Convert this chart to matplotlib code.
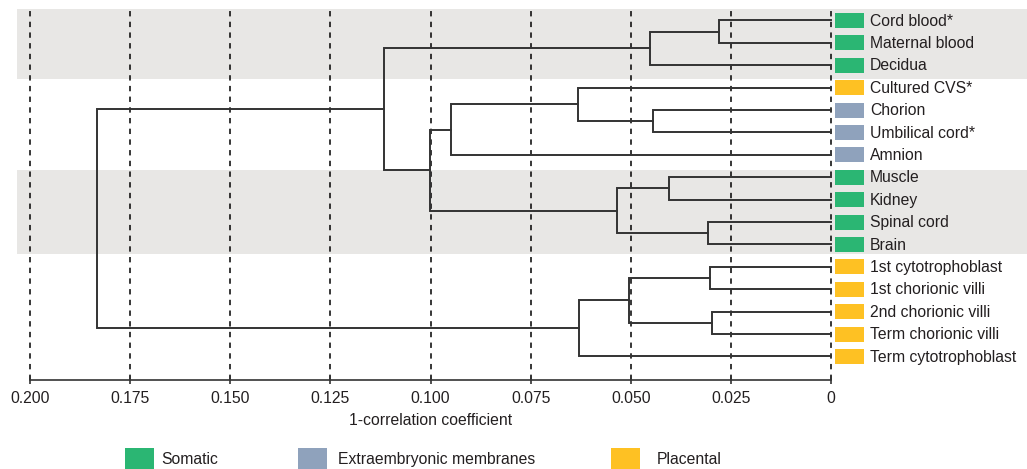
import numpy as np
import matplotlib
matplotlib.use("Agg")
import matplotlib.pyplot as plt
from matplotlib.patches import Rectangle
import matplotlib.transforms as mtransforms

plt.rcParams['font.family'] = ['Liberation Sans', 'DejaVu Sans']

# Data
leaves = ["Cord blood*", "Maternal blood", "Decidua", "Cultured CVS*", "Chorion",
          "Umbilical cord*", "Amnion", "Muscle", "Kidney", "Spinal cord", "Brain",
          "1st cytotrophoblast", "1st chorionic villi", "2nd chorionic villi",
          "Term chorionic villi", "Term cytotrophoblast"]
leaf_group = ["Somatic", "Somatic", "Somatic", "Placental", "Extraembryonic membranes",
              "Extraembryonic membranes", "Extraembryonic membranes", "Somatic", "Somatic",
              "Somatic", "Somatic", "Placental", "Placental", "Placental", "Placental",
              "Placental"]

# linkage rows: (child a, child b, height); new clusters numbered from 16
merge_a = [0, 16, 4, 3, 19, 7, 9, 21, 20, 17, 11, 13, 26, 28, 25]
merge_b = [1, 2, 5, 18, 6, 8, 10, 22, 23, 24, 12, 14, 27, 15, 29]
merge_h = [0.028, 0.0452, 0.0444, 0.0632, 0.0949, 0.0405, 0.0307, 0.0534,
           0.1001, 0.1116, 0.0302, 0.0297, 0.0504, 0.0629, 0.1833]

group_names = ["Somatic", "Extraembryonic membranes", "Placental"]
group_colors = {"Somatic": "#2bb673", "Extraembryonic membranes": "#8fa2bc",
                "Placental": "#fec123"}

# shaded rows (first, last leaf)
band_rows = [(0, 2), (7, 10)]

xticks = [0.2, 0.175, 0.15, 0.125, 0.1, 0.075, 0.05, 0.025, 0.0]
xtick_labels = ["0.200", "0.175", "0.150", "0.125", "0.100", "0.075", "0.050", "0.025", "0"]

line_col = "#333333"
text_col = "#231f20"
fs = 11.3

fig = plt.figure(figsize=(10.27, 4.69), dpi=100)
W, H = 1027, 469
ax = fig.add_axes([17 / W, (H - 380) / H, 1010 / W, 371 / H])
ax.set_xlim(0.20325, -0.04894)
ax.set_ylim(16.05, -0.513)

# bands (first one runs to the top of the plot)
for k, (r0, r1) in enumerate(band_rows):
    if k == 0:
        top, bot = -0.513, r1 + 0.63
    else:
        top, bot = r0 - 0.33, r1 + 0.42
    ax.axhspan(top, bot, color="#e8e7e5", lw=0, zorder=0)

# dashed grid
for t in xticks:
    ax.axvline(t, color="black", lw=1.1, ls=(0, (3.5, 3.5)), zorder=1)

# dendrogram
n = len(leaves)
ypos = {i: float(i) for i in range(n)}
hpos = {i: 0.0 for i in range(n)}
for k in range(len(merge_h)):
    a, b, h = merge_a[k], merge_b[k], merge_h[k]
    ya, yb = ypos[a], ypos[b]
    ax.plot([hpos[a], h, h, hpos[b]], [ya, ya, yb, yb], color=line_col, lw=1.4,
            solid_joinstyle="miter", zorder=3)
    ypos[n + k] = (ya + yb) / 2
    hpos[n + k] = h

# leaf colour boxes and labels
for i, name in enumerate(leaves):
    ax.add_patch(Rectangle((-0.001, i - 0.335), -0.00724, 0.67,
                           color=group_colors[leaf_group[i]], lw=0, zorder=3))
    ax.text(-0.00975, i + 0.03, name, fontsize=fs, color=text_col, va="center",
            ha="left", zorder=4)

# axis
for s in ["top", "left", "right"]:
    ax.spines[s].set_visible(False)
ax.spines["bottom"].set_bounds(0, 0.2)
ax.spines["bottom"].set_color(line_col)
ax.spines["bottom"].set_linewidth(1.2)
ax.set_yticks([])
ax.set_xticks(xticks)
ax.set_xticklabels(xtick_labels, fontsize=fs, color=text_col)
ax.tick_params(axis="x", direction="inout", length=6, width=1.2, color=line_col, pad=5)

trans = mtransforms.blended_transform_factory(ax.transData, ax.transAxes)
ax.text(0.1, (380 - 420.7) / 371, "1-correlation coefficient", transform=trans,
        fontsize=fs, color=text_col, ha="center", va="center")

# legend
legend_box_x = [125, 298, 611]
legend_text_x = [161, 338, 657]
for g, bx, tx in zip(group_names, legend_box_x, legend_text_x):
    fig.add_artist(Rectangle((bx / W, 0), 29 / W, (H - 448) / H,
                             transform=fig.transFigure, color=group_colors[g], lw=0))
    fig.text(tx / W, (H - 459) / H, g, fontsize=fs, color=text_col, va="center", ha="left")

fig.savefig("out.png", dpi=100)
